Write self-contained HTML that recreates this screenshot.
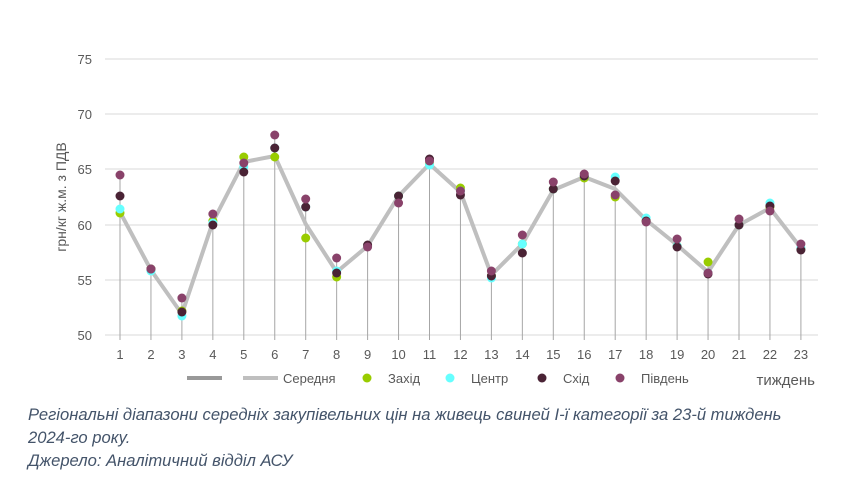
<!DOCTYPE html>
<html><head><meta charset="utf-8"><style>
body{margin:0;background:#fff;width:841px;height:495px;overflow:hidden;font-family:"Liberation Sans",sans-serif}
.cap{position:absolute;left:28px;font-style:italic;font-size:16.6px;color:#44546a;line-height:23px}
</style></head><body>
<svg id="s" width="841" height="400" style="position:absolute;left:0;top:0" font-family="Liberation Sans, sans-serif"></svg>
<div class="cap" style="top:403px">Регіональні діапазони середніх закупівельних цін на живець свиней І-ї категорії за 23-й тиждень<br>2024-го року.<br>Джерело: Аналітичний відділ АСУ</div>
<script>
const s=document.getElementById('s');let h='';
const X=i=>120+(i-1)*30.95;
[[75,59],[70,114],[65,169],[60,225],[55,280],[50,335]].forEach(([v,y])=>{
h+=`<line x1="105" x2="818" y1="${y}" y2="${y}" stroke="#d9d9d9" stroke-width="1"/>`;
h+=`<text x="92" y="${y+5}" font-size="13" fill="#595959" text-anchor="end">${v}</text>`;});
const L=[212,270,314,222,162,156,224,272,246,196,164,192,275,244,190,177,189,220,245,272,225,208,248];
const D={Z:[213,269,311,221,157,157,238,277,246,196,164,188,276,244,189,178,197,221,246,262,225,207,249],
C:[209,271,316,223,167,148,207,271,246,196,165,191,278,244,189,176,177,218,246,273,225,203,248],
S:[196,269,312,225,172,148,207,273,245,196,159,195,276,253,189,176,181,221,247,274,225,206,250],
P:[175,269,298,214,163,135,199,258,247,203,161,191,271,235,182,174,195,222,239,273,219,211,244]};
for(let i=0;i<23;i++){const t=Math.min(L[i],...Object.values(D).map(a=>a[i]));
h+=`<line x1="${X(i+1)}" x2="${X(i+1)}" y1="${t}" y2="340" stroke="#a6a6a6" stroke-width="1"/>`;
h+=`<text x="${X(i+1)}" y="359" font-size="13" fill="#595959" text-anchor="middle">${i+1}</text>`;}
h+=`<polyline fill="none" stroke="#bfbfbf" stroke-width="4" stroke-linejoin="round" points="${L.map((y,i)=>X(i+1)+','+y).join(' ')}"/>`;
const col={Z:'#99cc00',C:'#66ffff',S:'#4a2335',P:'#89426a'};
['Z','C','S','P'].forEach(k=>D[k].forEach((y,i)=>h+=`<circle cx="${X(i+1)}" cy="${y}" r="4.5" fill="${col[k]}"/>`));
h+=`<text transform="translate(66,197) rotate(-90)" font-size="14" fill="#595959" text-anchor="middle">грн/кг ж.м. з ПДВ</text>`;
h+=`<line x1="187" x2="222" y1="378" y2="378" stroke="#999" stroke-width="4"/><line x1="243" x2="278" y1="378" y2="378" stroke="#bfbfbf" stroke-width="4"/>`;
h+=`<text x="283" y="383" font-size="13" fill="#595959">Середня</text>`;
[[367,'Z','Захід'],[450,'C','Центр'],[542,'S','Схід'],[620,'P','Південь']].forEach(([x,k,t])=>{
h+=`<circle cx="${x}" cy="378" r="4.5" fill="${col[k]}"/><text x="${x+21}" y="383" font-size="13" fill="#595959">${t}</text>`;});
h+=`<text x="815" y="385" font-size="15" fill="#595959" text-anchor="end">тиждень</text>`;
s.innerHTML=h;
</script>
</body></html>
